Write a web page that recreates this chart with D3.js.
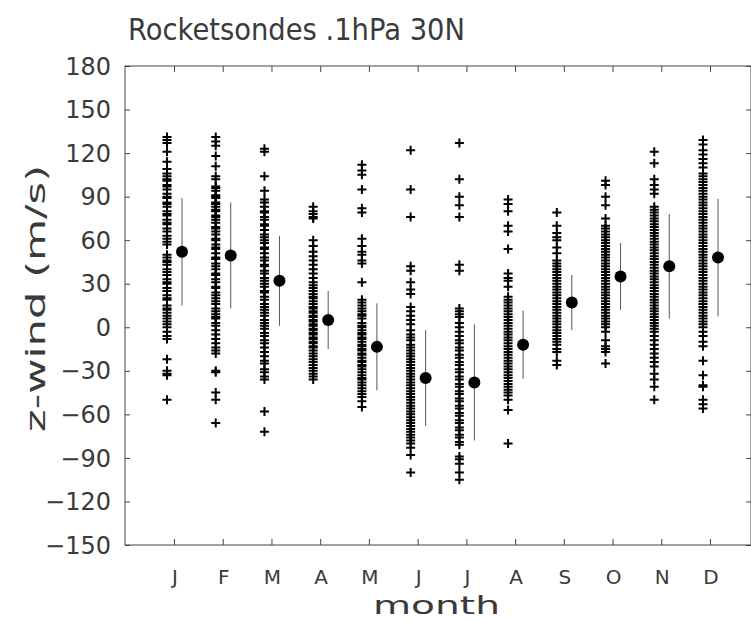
<!DOCTYPE html>
<html>
<head>
<meta charset="utf-8">
<script src="https://cdn.jsdelivr.net/npm/d3@7"></script>
<style>
  body { margin: 0; background: #fff; }
  text { font-family: "DejaVu Sans", sans-serif; fill: #3a3a3a; }
</style>
</head>
<body>
<svg id="chart" width="751" height="621"></svg>
<script>
// month labels along the bottom
var months = ["J", "F", "M", "A", "M", "J", "J", "A", "S", "O", "N", "D"];
var yTicks = [-150, -120, -90, -60, -30, 0, 30, 60, 90, 120, 150, 180];

// individual rocketsonde observations (m/s), one list per month
var janObs = [131, 129, 127, 121, 114, 109, 106, 104, 102, 101, 98, 97, 95, 92, 90, 89, 86, 85, 83, 80, 78, 77, 74, 72, 71, 68, 66, 63, 61, 59, 57, 50, 48, 46, 45, 43, 40, 38, 36, 33, 31, 30, 27, 25, 22, 20, 19, 15, 13, 12, 10, 8, 6, 4, 2, 0, -3, -6, -8, -22, -30, -32, -33, -50];
var febObs = [131, 128, 125, 118, 111, 104, 102, 97, 96, 94, 91, 90, 89, 86, 85, 83, 81, 80, 77, 76, 74, 72, 69, 68, 66, 64, 61, 60, 57, 55, 54, 51, 48, 47, 44, 42, 40, 37, 36, 33, 31, 28, 27, 24, 22, 20, 18, 16, 13, 11, 9, 7, 6, 3, 1, -2, -5, -8, -11, -14, -16, -18, -30, -31, -45, -50, -66];
var marObs = [123, 121, 104, 94, 88, 86, 83, 80, 79, 76, 74, 71, 70, 67, 64, 62, 60, 58, 55, 54, 51, 48, 46, 43, 42, 39, 37, 34, 32, 30, 28, 25, 24, 21, 19, 16, 14, 12, 10, 8, 5, 3, 1, -1, -4, -6, -9, -11, -14, -17, -20, -23, -25, -29, -31, -34, -36, -58, -72];
var aprObs = [83, 80, 78, 76, 75, 60, 56, 52, 49, 46, 43, 40, 37, 34, 31, 29, 27, 25, 23, 21, 20, 18, 16, 14, 13, 11, 10, 8, 7, 5, 4, 2, 1, -1, -2, -4, -5, -7, -8, -10, -11, -13, -14, -16, -18, -20, -22, -24, -26, -28, -30, -32, -34, -36];
var mayObs = [112, 108, 105, 95, 82, 79, 61, 56, 52, 50, 46, 44, 31, 19, 17, 15, 13, 11, 9, 8, 6, 3, 1, 0, -2, -4, -5, -7, -8, -10, -12, -13, -15, -16, -18, -19, -21, -23, -24, -26, -27, -29, -31, -33, -35, -36, -38, -40, -42, -44, -46, -48, -51, -55];
var junObs = [122, 95, 76, 42, 39, 31, 26, 23, 14, 11, 8, 5, 2, -2, -5, -7, -9, -12, -14, -16, -18, -20, -22, -24, -26, -28, -30, -32, -34, -36, -38, -40, -42, -44, -46, -48, -50, -52, -54, -56, -58, -60, -62, -64, -66, -68, -70, -72, -74, -76, -78, -80, -83, -88, -100];
var julObs = [127, 102, 90, 84, 76, 43, 39, 13, 11, 9, 7, 3, 0, -3, -6, -9, -11, -14, -16, -19, -21, -24, -26, -29, -31, -34, -36, -39, -41, -44, -46, -49, -51, -54, -56, -59, -61, -64, -66, -69, -71, -74, -76, -79, -81, -89, -91, -94, -100, -105];
var augObs = [88, 85, 80, 70, 66, 54, 37, 34, 32, 28, 21, 19, 17, 15, 13, 11, 9, 7, 5, 3, 1, -1, -3, -5, -7, -9, -11, -13, -15, -17, -19, -21, -23, -25, -27, -29, -31, -33, -35, -37, -39, -41, -43, -45, -47, -50, -57, -80];
var sepObs = [79, 70, 65, 62, 60, 55, 51, 46, 44, 42, 40, 38, 36, 34, 32, 30, 28, 26, 24, 22, 20, 18, 16, 14, 12, 10, 8, 6, 4, 2, 0, -2, -4, -6, -8, -10, -12, -15, -17, -23, -26];
var octObs = [101, 98, 90, 84, 75, 70, 68, 66, 64, 62, 60, 58, 56, 54, 52, 50, 48, 46, 44, 42, 40, 38, 36, 34, 32, 30, 28, 26, 24, 22, 20, 18, 16, 14, 12, 10, 8, 6, 4, 2, 0, -3, -9, -13, -15, -17, -25];
var novObs = [121, 113, 102, 98, 95, 92, 83, 81, 79, 77, 75, 73, 71, 69, 67, 65, 63, 61, 59, 57, 55, 53, 51, 49, 47, 45, 43, 41, 39, 37, 35, 33, 31, 29, 27, 25, 23, 21, 19, 17, 15, 13, 11, 9, 7, 5, 3, 1, -1, -3, -6, -9, -12, -15, -18, -21, -24, -27, -32, -36, -41, -50];
var decObs = [129, 126, 122, 119, 116, 113, 110, 106, 104, 102, 100, 98, 96, 94, 92, 90, 88, 86, 84, 82, 80, 78, 76, 74, 72, 70, 68, 66, 64, 62, 60, 58, 56, 54, 52, 50, 48, 46, 44, 42, 40, 38, 36, 34, 32, 30, 28, 26, 24, 22, 20, 18, 16, 14, 12, 10, 8, 6, 4, 2, 0, -3, -6, -10, -13, -23, -33, -40, -41, -50, -53, -56];
var observations = [janObs, febObs, marObs, aprObs, mayObs, junObs, julObs, augObs, sepObs, octObs, novObs, decObs];

// monthly mean and standard deviation
var means = [52, 49.5, 32, 5, -13.5, -35, -38, -12, 17, 35, 42, 48];
var stdevs = [37, 36.5, 31, 20, 30, 33, 40, 23.5, 19, 23, 36, 40.5];

(function() {
  var svg = d3.select("#chart");
  var left = 125, right = 751, top = 66, bottom = 545;

  var x = d3.scaleLinear().domain([0, 11]).range([174, 710]);
  var y = d3.scaleLinear().domain([-150, 180]).range([bottom, top]);

  // frame
  svg.append("rect")
    .attr("x", left).attr("y", top)
    .attr("width", right - left).attr("height", bottom - top)
    .attr("fill", "none").attr("stroke", "#444").attr("stroke-width", 1);

  // y axis (ticks inward), labels on the left
  var yAxis = svg.append("g")
    .attr("transform", "translate(" + left + ",0)")
    .call(d3.axisRight(y).tickValues(yTicks).tickSize(5).tickFormat(""));
  yAxis.select(".domain").remove();
  yAxis.selectAll("line").attr("stroke", "#444");

  var yAxisR = svg.append("g")
    .attr("transform", "translate(" + right + ",0)")
    .call(d3.axisLeft(y).tickValues(yTicks).tickSize(5).tickFormat(""));
  yAxisR.select(".domain").remove();
  yAxisR.selectAll("line").attr("stroke", "#444");

  svg.append("g").selectAll("text")
    .data(yTicks)
    .join("text")
    .attr("x", 111)
    .attr("y", function(d) { return y(d); })
    .attr("dy", "0.36em")
    .attr("text-anchor", "end")
    .style("font-size", "24px")
    .text(d3.format("d"));

  // x ticks top and bottom, inward
  var xAxisB = svg.append("g")
    .attr("transform", "translate(0," + bottom + ")")
    .call(d3.axisTop(x).tickValues(d3.range(12)).tickSize(6).tickFormat(""));
  xAxisB.select(".domain").remove();
  xAxisB.selectAll("line").attr("stroke", "#444");

  var xAxisT = svg.append("g")
    .attr("transform", "translate(0," + top + ")")
    .call(d3.axisBottom(x).tickValues(d3.range(12)).tickSize(6).tickFormat(""));
  xAxisT.select(".domain").remove();
  xAxisT.selectAll("line").attr("stroke", "#444");

  svg.append("g").selectAll("text")
    .data(months)
    .join("text")
    .attr("x", function(d, i) { return x(i) + 1; })
    .attr("y", 584)
    .attr("text-anchor", "middle")
    .style("font-size", "20px")
    .text(function(d) { return d; });

  // observations as crosses, left of each month tick
  var crossPath = "M-4.5,0H4.5M0,-4.5V4.5";
  observations.forEach(function(obs, i) {
    svg.append("g").selectAll("path")
      .data(obs)
      .join("path")
      .attr("transform", function(d) { return "translate(" + (x(i) - 7) + "," + y(d) + ")"; })
      .attr("d", crossPath)
      .attr("stroke", "#000")
      .attr("stroke-width", 2)
      .attr("fill", "none");
  });

  // mean +/- std, right of each month tick
  var stats = svg.append("g");
  stats.selectAll("line")
    .data(means)
    .join("line")
    .attr("x1", function(d, i) { return x(i) + 8; })
    .attr("x2", function(d, i) { return x(i) + 8; })
    .attr("y1", function(d, i) { return y(d + stdevs[i]); })
    .attr("y2", function(d, i) { return y(d - stdevs[i]); })
    .attr("stroke", "#555")
    .attr("stroke-width", 1);
  stats.selectAll("circle")
    .data(means)
    .join("circle")
    .attr("cx", function(d, i) { return x(i) + 8; })
    .attr("cy", function(d) { return y(d); })
    .attr("r", 6)
    .attr("fill", "#000");

  // titles
  svg.append("text")
    .attr("x", 128).attr("y", 40)
    .attr("textLength", 337).attr("lengthAdjust", "spacingAndGlyphs")
    .style("font-size", "31px")
    .text("Rocketsondes .1hPa 30N");

  svg.append("text")
    .attr("transform", "translate(45,432) rotate(-90)")
    .attr("textLength", 267).attr("lengthAdjust", "spacingAndGlyphs")
    .style("font-size", "27px")
    .text("z-wind (m/s)");

  svg.append("text")
    .attr("x", 373).attr("y", 614)
    .attr("textLength", 127).attr("lengthAdjust", "spacingAndGlyphs")
    .style("font-size", "25px")
    .text("month");
}());
</script>
</body>
</html>
